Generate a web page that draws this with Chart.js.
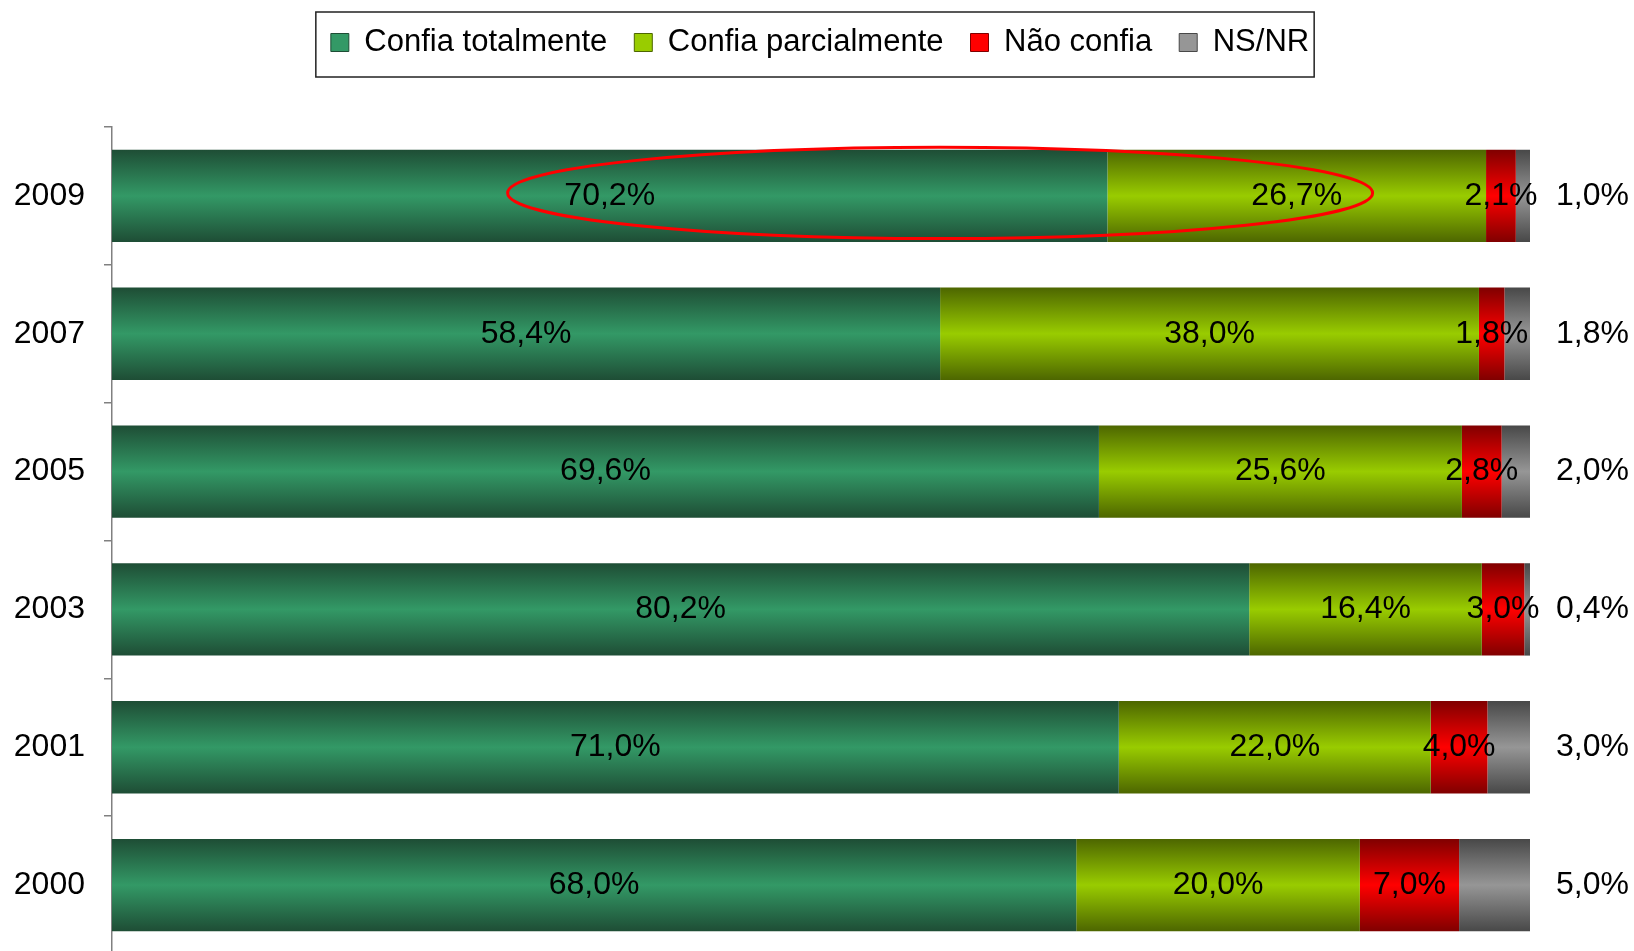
<!DOCTYPE html>
<html>
<head>
<meta charset="utf-8">
<script src="https://cdn.jsdelivr.net/npm/chart.js@4/dist/chart.umd.min.js"></script>
<style>
  html, body { margin: 0; padding: 0; background: #fff; overflow: hidden; }
  #wrap { width: 1634px; height: 956px; }
</style>
</head>
<body>
<div id="wrap"><canvas id="confChart" width="1634" height="956"></canvas></div>
<script>
const years = ['2009', '2007', '2005', '2003', '2001', '2000'];
const seriesNames = ['Confia totalmente', 'Confia parcialmente', 'Não confia', 'NS/NR'];
const confiaTotal = [70.2, 58.4, 69.6, 80.2, 71.0, 68.0];
const confiaParcial = [26.7, 38.0, 25.6, 16.4, 22.0, 20.0];
const naoConfia = [2.1, 1.8, 2.8, 3.0, 4.0, 7.0];
const nsnr = [1.0, 1.8, 2.0, 0.4, 3.0, 5.0];

// highlighted range on the 2009 bar (x values)
const highlightFrom = 27.9;
const highlightTo = 88.9;

// [edge colour, middle colour]
const colours = [
  ['#1e4d35', '#339966'],
  ['#4d6600', '#99cc00'],
  ['#800000', '#ff0000'],
  ['#484848', '#969696']
];

const BAR_PCT = 0.67;
const FONT = '"Liberation Sans", Arial, sans-serif';

function barGradient(idx) {
  return function (c) {
    const chart = c.chart;
    const ys = chart.scales && chart.scales.y;
    if (c.type !== 'data' || !ys || !ys.height) return colours[idx][1];
    const mid = ys.getPixelForValue(c.dataIndex);
    const half = ys.height / years.length * BAR_PCT / 2;
    const g = chart.ctx.createLinearGradient(0, mid - half, 0, mid + half);
    g.addColorStop(0, colours[idx][0]);
    g.addColorStop(0.5, colours[idx][1]);
    g.addColorStop(1, colours[idx][0]);
    return g;
  };
}

const fmt = v => v.toFixed(1).replace('.', ',') + '%';

const chartPlugin = {
  id: 'extras',
  beforeInit(chart) {
    const lg = chart.legend;
    const fit = lg.fit;
    lg.fit = function () {
      fit.call(this);
      this.height = 127;
    };
  },
  afterLayout(chart) {
    // centre legend on the page rather than over the plot
    chart.legend.left = 0;
    chart.legend.right = 1640;
  },
  afterDatasetsDraw(chart) {
    const ctx = chart.ctx;
    const xs = chart.scales.x;
    const area = chart.chartArea;

    // red ellipse around 2009
    const el0 = chart.getDatasetMeta(0).data[0];
    const x0 = xs.getPixelForValue(highlightFrom);
    const x1 = xs.getPixelForValue(highlightTo);
    ctx.save();
    ctx.strokeStyle = '#ff0000';
    ctx.lineWidth = 3;
    ctx.beginPath();
    ctx.ellipse((x0 + x1) / 2, el0.y - 3, (x1 - x0) / 2, el0.height / 2 - 0.5, 0, 0, Math.PI * 2);
    ctx.stroke();
    ctx.restore();

    // value labels
    ctx.save();
    ctx.font = '32px ' + FONT;
    ctx.fillStyle = '#000';
    ctx.textBaseline = 'middle';
    chart.data.datasets.forEach((ds, di) => {
      const meta = chart.getDatasetMeta(di);
      meta.data.forEach((bar, i) => {
        const txt = fmt(ds.data[i]);
        if (di < 3) {
          ctx.textAlign = 'center';
          ctx.fillText(txt, (bar.x + bar.base) / 2, bar.y);
        } else {
          ctx.textAlign = 'left';
          ctx.fillText(txt, area.right + 26, bar.y);
        }
      });
    });
    ctx.restore();
  },
  afterDraw(chart) {
    const hb = chart.legend.legendHitBoxes;
    if (!hb || !hb.length) return;
    const first = hb[0], last = hb[hb.length - 1];
    const ctx = chart.ctx;
    ctx.save();
    ctx.strokeStyle = '#222';
    ctx.lineWidth = 1.5;
    const l = first.left - 15, r = last.left + last.width + 5;
    const t = first.top - 15, b = first.top + first.height + 19;
    ctx.strokeRect(l, t, r - l, b - t);
    ctx.restore();
  }
};

const seriesData = [confiaTotal, confiaParcial, naoConfia, nsnr];

new Chart(document.getElementById('confChart'), {
  type: 'bar',
  data: {
    labels: years,
    datasets: seriesData.map((d, i) => ({
      label: seriesNames[i],
      data: d,
      backgroundColor: barGradient(i),
      borderWidth: 0,
      barPercentage: BAR_PCT,
      categoryPercentage: 1
    }))
  },
  options: {
    indexAxis: 'y',
    responsive: false,
    animation: false,
    layout: { padding: { left: 14, right: 104, top: 0, bottom: 2 } },
    scales: {
      x: { stacked: true, min: 0, max: 100, display: false },
      y: {
        stacked: true,
        afterFit(scale) {
          scale.width = 98;
          scale.paddingTop = 0;
          scale.paddingBottom = 0;
        },
        grid: { offset: true, drawOnChartArea: false, drawTicks: true, tickLength: 8, color: '#808080', lineWidth: 1.5 },
        border: { display: true, color: '#808080', width: 1.5 },
        ticks: { color: '#000', padding: 19, font: { family: FONT, size: 32 } }
      }
    },
    plugins: {
      tooltip: { enabled: false },
      legend: {
        position: 'top',
        labels: {
          color: '#000',
          boxWidth: 18,
          boxHeight: 18,
          padding: 27,
          font: { family: FONT, size: 31 },
          generateLabels: () => seriesNames.map((n, i) => ({
            text: n,
            fillStyle: colours[i][1],
            strokeStyle: colours[i][0],
            lineWidth: 1,
            hidden: false,
            datasetIndex: i
          }))
        }
      }
    }
  },
  plugins: [chartPlugin]
});
</script>
</body>
</html>
